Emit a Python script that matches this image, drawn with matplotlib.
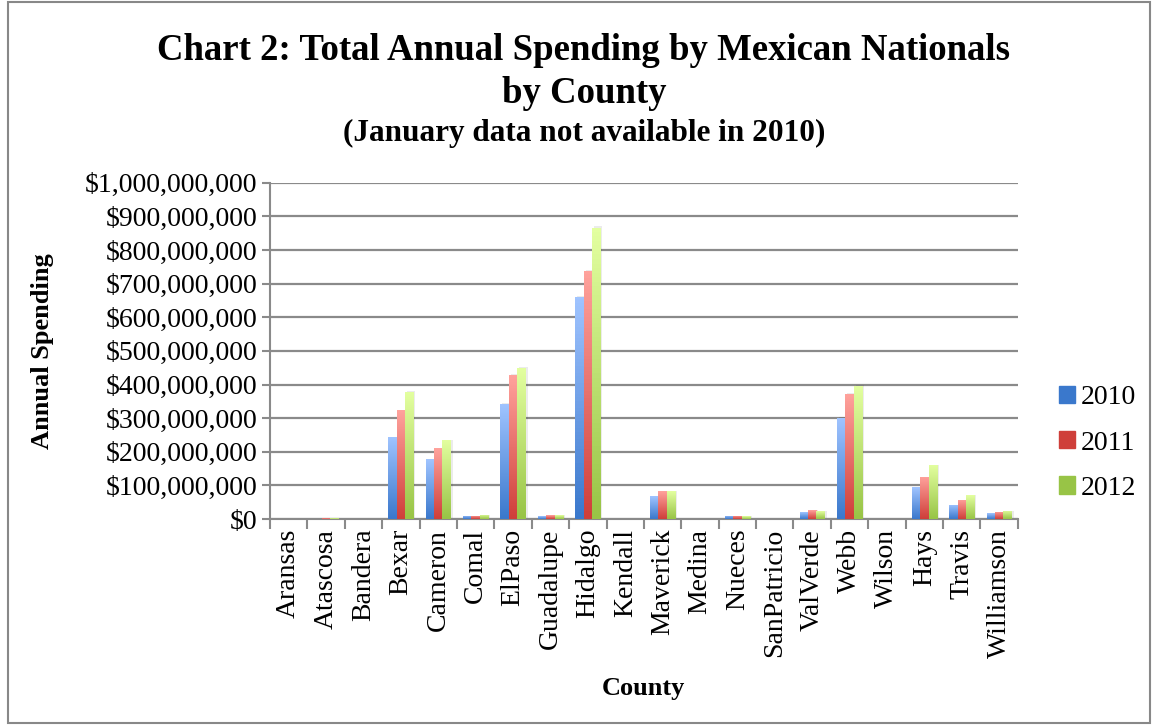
import numpy as np
import matplotlib.pyplot as plt
from matplotlib.colors import LinearSegmentedColormap
from matplotlib.patches import Rectangle

plt.rcParams['font.family'] = ['Liberation Serif', 'DejaVu Serif']

counties = ["Aransas", "Atascosa", "Bandera", "Bexar", "Cameron", "Comal", "ElPaso",
            "Guadalupe", "Hidalgo", "Kendall", "Maverick", "Medina", "Nueces",
            "SanPatricio", "ValVerde", "Webb", "Wilson", "Hays", "Travis", "Williamson"]
years = ["2010", "2011", "2012"]
spend_2010 = [1.5e6, 1.5e6, 1.2e6, 244e6, 178e6, 9e6, 342e6, 8e6, 661e6, 1.5e6,
              68e6, 1e6, 9e6, 1.2e6, 20e6, 301e6, 1.2e6, 95e6, 42e6, 17e6]
spend_2011 = [1.5e6, 1.8e6, 1.5e6, 324e6, 211e6, 9e6, 428e6, 11e6, 738e6, 1.5e6,
              83e6, 1e6, 9e6, 1.2e6, 26e6, 372e6, 1.2e6, 125e6, 57e6, 21e6]
spend_2012 = [1.5e6, 1.8e6, 1.5e6, 378e6, 235e6, 12e6, 449e6, 11e6, 866e6, 1.5e6,
              83e6, 1e6, 8e6, 1.2e6, 23e6, 396e6, 1.2e6, 161e6, 71e6, 24e6]
series = [spend_2010, spend_2011, spend_2012]
# (top, bottom) gradient colours
grads = [("#a0c4ff", "#3a78cc"), ("#ffa29c", "#cf3f3a"), ("#e3ffa0", "#98c446")]

fig = plt.figure(figsize=(11.54, 7.25), dpi=100)
fig.patches.append(Rectangle((8 / 1154, 0.003), 1 - 12 / 1154, 0.994,
                             transform=fig.transFigure, fill=False,
                             edgecolor="#888888", lw=1.5))
ax = fig.add_axes([0.234, 0.284, 0.648, 0.464])

x = np.arange(len(counties))
w = 0.225
for k, vals in enumerate(series):
    cmap = LinearSegmentedColormap.from_list("g%d" % k, [grads[k][1], grads[k][0]])
    bars = ax.bar(x + (k - 1) * w, vals, w, color=grads[k][1], label=years[k],
                  zorder=3, linewidth=0)
    for b in bars:
        # soft shadow to the right
        sh = Rectangle((b.get_x() + 0.05, 0), b.get_width(), b.get_height() * 1.005,
                       color="#000000", alpha=0.08, zorder=2, lw=0)
        ax.add_patch(sh)
        h = b.get_height()
        im = ax.imshow(np.linspace(0, 1, 64).reshape(-1, 1), cmap=cmap, origin="lower",
                       extent=[b.get_x(), b.get_x() + b.get_width(), 0, h],
                       aspect="auto", zorder=4)
        im.set_clip_path(b)

ax.set_xlim(-0.5, len(counties) - 0.5)
ax.set_ylim(0, 1e9)
ax.set_yticks(np.arange(0, 1.01e9, 1e8))
ax.set_yticklabels(["$0"] + ["${:,.0f}".format(v) for v in np.arange(1e8, 1.01e9, 1e8)])
ax.yaxis.grid(True, color="#8a8a8a", lw=1.6, zorder=0)
ax.set_xticks(x)
ax.set_xticklabels(counties, rotation=90, fontsize=20)
ax.set_xticks(np.arange(-0.5, len(counties), 1), minor=True)
ax.tick_params(axis="x", which="major", length=0, pad=7)
ax.tick_params(axis="x", which="minor", length=7, width=1.5, color="#8a8a8a")
ax.tick_params(axis="y", labelsize=20, length=6, width=1.5, color="#8a8a8a", pad=3)
for s in ["top", "right"]:
    ax.spines[s].set_visible(False)
for s in ["left", "bottom"]:
    ax.spines[s].set_color("#8a8a8a")
    ax.spines[s].set_linewidth(1.5)

ax.set_ylabel("Annual Spending", fontsize=19, fontweight="bold", labelpad=22)
ax.set_xlabel("County", fontsize=19, fontweight="bold", labelpad=14)

fig.text(0.506, 0.930, "Chart 2: Total Annual Spending by Mexican Nationals",
         ha="center", va="center", fontsize=26.5, fontweight="bold")
fig.text(0.506, 0.871, "by County", ha="center", va="center", fontsize=26.5,
         fontweight="bold")
fig.text(0.506, 0.816, "(January data not available in 2010)", ha="center", va="center",
         fontsize=22.5, fontweight="bold")

handles = [Rectangle((0, 0), 1, 1, color=grads[k][1]) for k in range(3)]
ax.legend(handles, years, loc="center left", bbox_to_anchor=(1.055, 0.226), frameon=False,
          fontsize=20, handlelength=0.58, handleheight=0.58, handletextpad=0.2,
          labelspacing=0.73, borderpad=0, borderaxespad=0)

fig.savefig("out.png", dpi=100)
